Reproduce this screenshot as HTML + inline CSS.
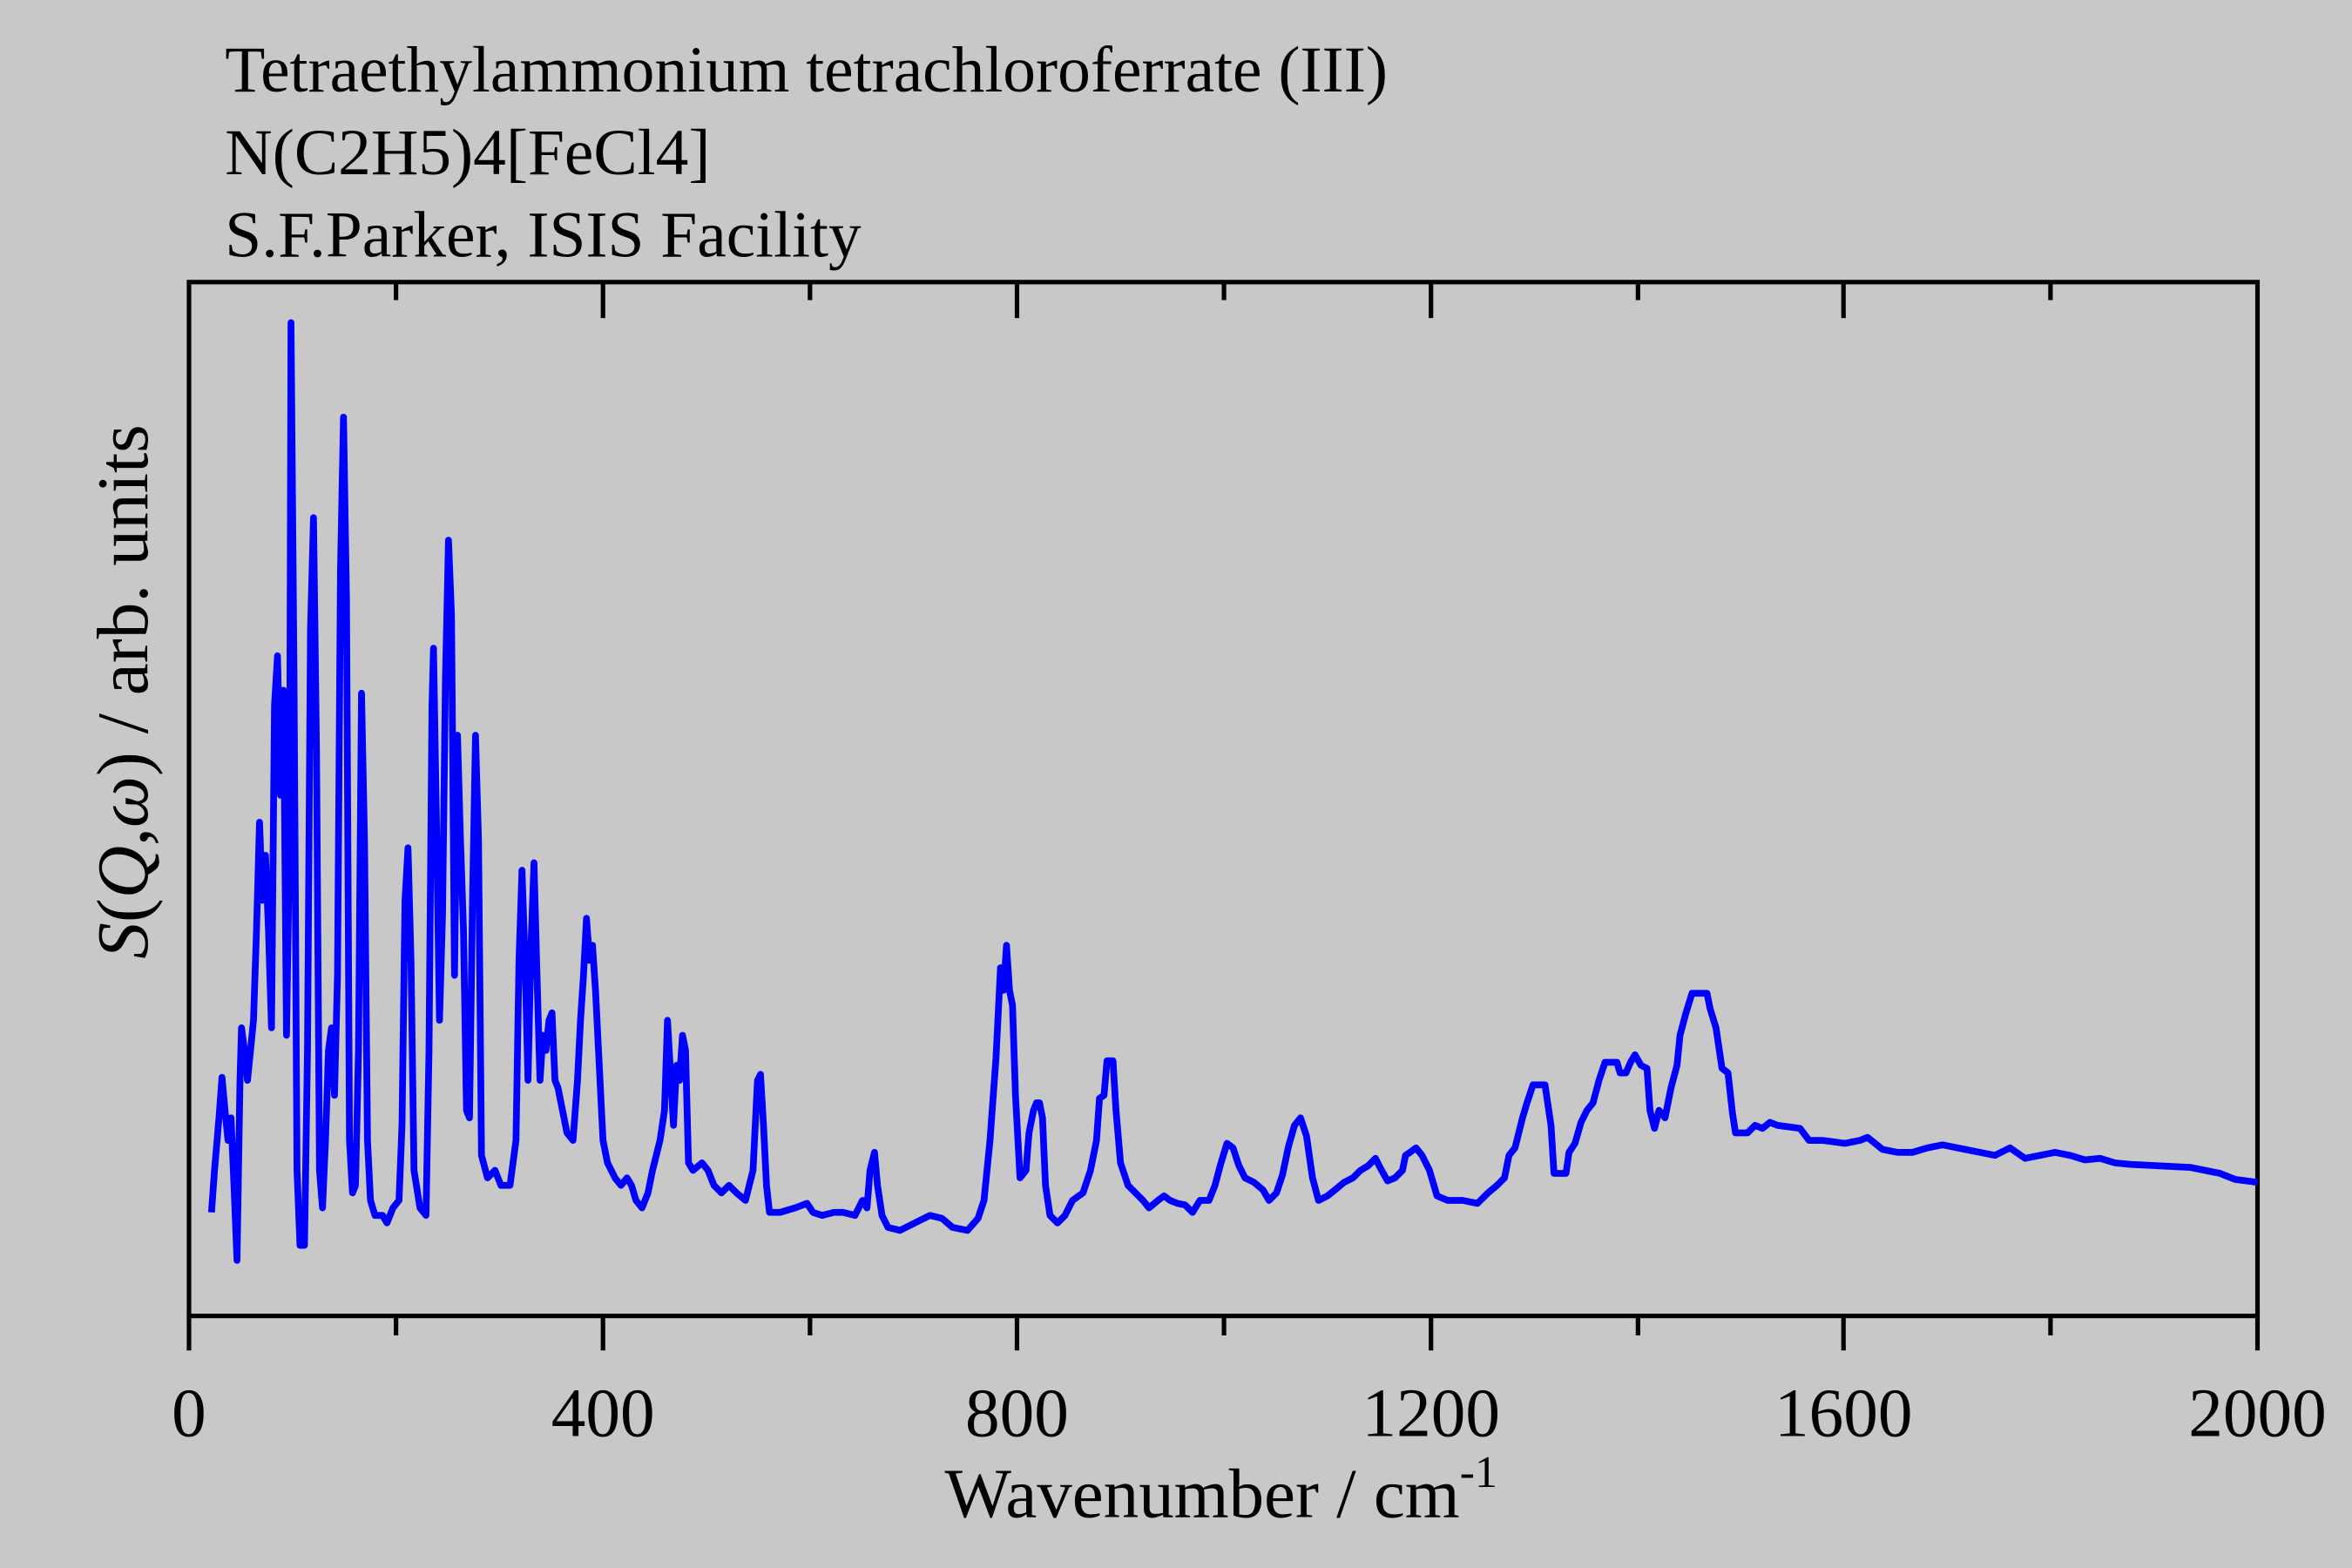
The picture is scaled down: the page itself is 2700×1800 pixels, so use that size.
<!DOCTYPE html>
<html><head><meta charset="utf-8"><style>
html,body{margin:0;padding:0;background:#c8c8c8;}
svg{display:block;}
text{font-family:"Liberation Serif",serif;fill:#000;}
</style></head><body>
<svg width="2700" height="1800" viewBox="0 0 1568 1045" preserveAspectRatio="none" xmlns="http://www.w3.org/2000/svg">
<rect width="1568" height="1045" fill="#c8c8c8"/>
<text x="150" y="61" font-size="43.8">Tetraethylammonium tetrachloroferrate (III)</text>
<text x="150" y="116" font-size="43.8">N(C2H5)4[FeCl4]</text>
<text x="150" y="171" font-size="43.8">S.F.Parker, ISIS Facility</text>
<g stroke="#000" stroke-width="3" fill="none">
<rect x="126" y="188" width="1379" height="689"/>
<path d="M126,877v23M402,877v23M678,877v23M954,877v23M1229,877v23M1505,877v23
M264,877v13M540,877v13M816,877v13M1092,877v13M1367,877v13
M402,188v24M678,188v24M954,188v24M1229,188v24
M264,188v12M540,188v12M816,188v12M1092,188v12M1367,188v12"/>
</g>
<g font-size="46" text-anchor="middle">
<text x="126" y="957">0</text><text x="402" y="957">400</text><text x="678" y="957">800</text>
<text x="954" y="957">1200</text><text x="1229" y="957">1600</text><text x="1505" y="957">2000</text>
</g>
<text x="814" y="1011" font-size="47" text-anchor="middle">Wavenumber / cm<tspan font-size="30" dy="-20">-1</tspan></text>
<text transform="translate(98,461) rotate(-90)" font-size="48.5" text-anchor="middle"><tspan font-style="italic">S</tspan>(<tspan font-style="italic">Q</tspan>,<tspan font-style="italic">ω</tspan>) / arb. units</text>
<polyline fill="none" stroke="#0000ff" stroke-width="4.5" stroke-linejoin="round" points="141,808 143,780 146,745 148,718 150,740 152,760 154,745 156,790 158,840 160,720 161,685 163,700 165,720 167,700 169,680 171,620 173,548 175,600 177,570 179,620 181,685 183,470 185,437 187,530 189,460 191,690 193,560 194,215 196,450 198,780 200,830 203,830 205,700 207,420 209,345 211,500 213,780 215,805 217,760 219,700 221,685 223,730 225,650 227,380 229,278 231,400 233,760 235,795 237,790 239,700 241,462 243,560 245,760 247,800 250,810 255,810 258,815 262,805 266,800 268,750 270,600 272,565 274,640 276,780 280,805 284,810 286,700 288,470 289,432 291,550 293,680 295,610 297,450 299,360 301,410 303,650 305,490 307,560 309,620 311,740 313,745 315,600 317,490 319,560 321,770 325,785 330,780 334,790 340,790 344,760 346,640 348,580 350,640 352,720 354,630 356,575 358,650 360,720 362,690 364,700 366,680 368,675 370,720 372,725 374,735 378,755 382,760 385,720 387,680 389,650 391,612 393,640 395,630 397,660 399,700 402,760 405,775 410,785 414,790 418,785 421,790 424,800 428,805 432,795 435,780 440,760 443,740 445,680 447,715 449,750 451,710 453,720 455,690 457,700 459,775 462,780 468,775 472,780 476,790 481,795 486,790 491,795 497,800 502,780 505,720 507,716 509,750 511,790 513,808 520,808 530,805 538,802 542,808 548,810 556,808 562,808 570,810 575,800 578,805 580,780 583,768 585,790 588,810 592,818 600,820 610,815 620,810 628,812 635,818 645,820 652,812 656,800 660,760 664,705 667,645 669,660 671,630 673,660 675,670 677,730 680,785 684,780 686,755 689,740 691,735 693,735 695,745 697,790 700,810 705,815 710,810 715,800 722,795 727,780 731,760 733,732 736,730 738,707 742,707 744,740 747,775 752,790 757,795 762,800 766,805 772,800 776,797 780,800 785,802 790,803 795,808 800,800 806,800 810,790 814,775 818,762 822,765 826,777 830,785 836,788 842,793 846,800 851,795 855,783 859,764 863,750 867,745 871,757 875,785 879,800 885,797 890,793 896,788 902,785 907,780 912,777 917,772 920,778 925,787 930,785 935,780 937,770 940,768 944,765 948,770 953,780 958,797 965,800 975,800 985,802 992,795 998,790 1003,785 1006,770 1010,765 1015,745 1018,735 1022,723 1030,723 1034,750 1036,782 1044,782 1046,768 1050,762 1054,748 1058,740 1062,735 1066,720 1070,708 1078,708 1080,715 1084,715 1087,708 1090,703 1094,710 1098,712 1100,740 1103,752 1106,740 1110,745 1114,725 1118,710 1120,690 1124,675 1128,662 1138,662 1140,672 1144,685 1148,712 1152,715 1155,742 1157,755 1165,755 1170,750 1175,752 1180,748 1185,750 1200,752 1206,760 1215,760 1230,762 1240,760 1245,758 1250,762 1255,766 1265,768 1275,768 1285,765 1295,763 1310,766 1320,768 1330,770 1340,765 1350,772 1360,770 1370,768 1380,770 1390,773 1400,772 1410,775 1420,776 1440,777 1460,778 1480,782 1490,786 1505,788"/>
</svg>
</body></html>
